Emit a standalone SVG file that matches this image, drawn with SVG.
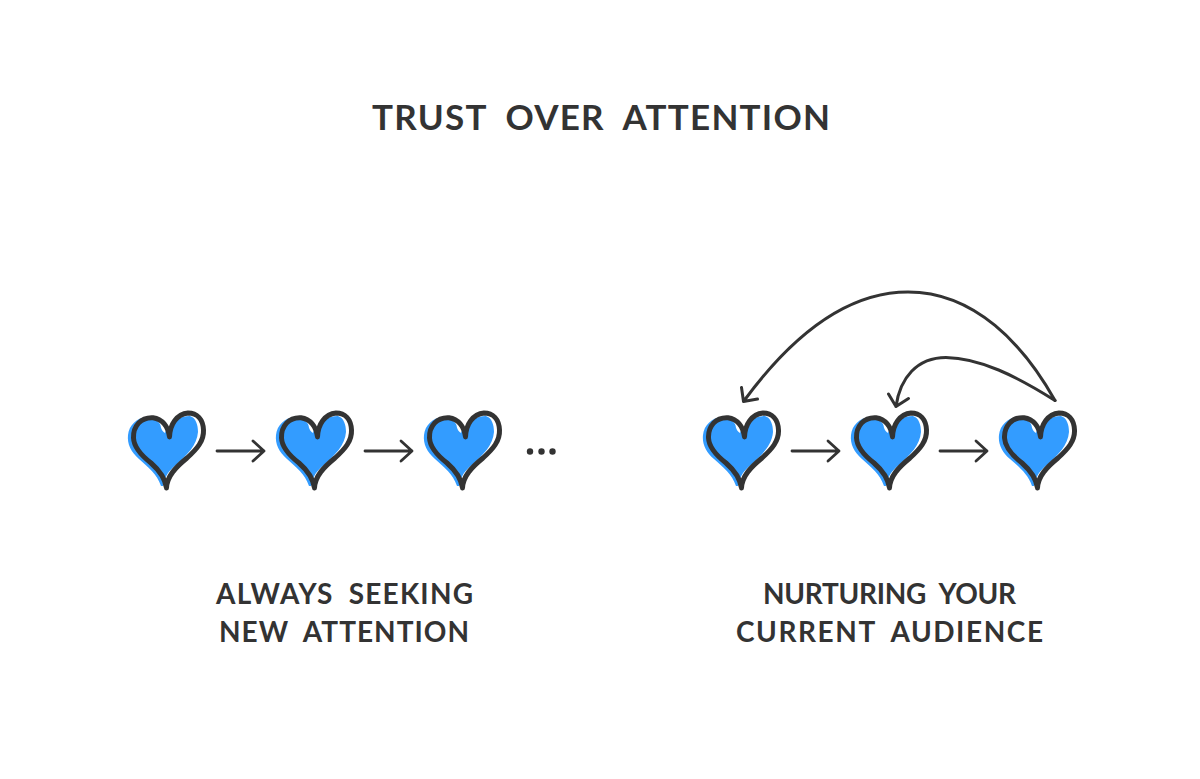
<svg xmlns="http://www.w3.org/2000/svg" width="1200" height="779" viewBox="0 0 1200 779">
<style>
.ink{fill:none;stroke:#333;stroke-linecap:round;stroke-linejoin:round}
.t{font-family:"Lato","Noto Sans",sans-serif;font-weight:700;fill:#333}
.title{font-size:35px;word-spacing:9px}
.lab{font-size:28px;word-spacing:7px}
</style>
<defs>
<g id="heart">
<path fill="#339cff" d="M161 486C157 474 148 467 139 459C131 452 127 444 128 435C129 425 137 418 146 417C155 417 160 422 163 430L168 431C171 422 180 416 190 416C196 418 198 425 198 432C197 445 187 455 178 463C171 469 166 474 165 480L163 486Z"/>
<path fill="#fff" d="M162 419C159 424 161 431 165 433L168 424Z"/>
<path class="ink" stroke-width="5" d="M169.500 437C168 426 162 419 153 417.700C141 417 133 426 133.500 438C134 448 142 456 151 463C159 470 165 477 166.500 488C167 476 176 467 187 458C197 449 204 441 203.500 430C203 419 197 413 188 413C177 414 170 424 169.500 437Z"/>
</g>
<path id="arr" class="ink" stroke-width="2.800" d="M0 451H47M36 441L47 451L36 461"/>
</defs>
<rect width="1200" height="779" fill="#fff"/>
<text id="title" class="t title" x="372" y="129.500" textLength="458" lengthAdjust="spacing">TRUST OVER ATTENTION</text>
<g id="heart-a1"><use href="#heart"/></g>
<g id="heart-a2"><use href="#heart" x="148"/></g>
<g id="heart-a3"><use href="#heart" x="296"/></g>
<g id="ellipsis" fill="#333"><circle cx="530" cy="451.500" r="3.200"/><circle cx="541.500" cy="451.500" r="3.200"/><circle cx="552.500" cy="451.500" r="3.200"/></g>
<g id="heart-b1"><use href="#heart" x="575"/></g>
<g id="heart-b2"><use href="#heart" x="723"/></g>
<g id="heart-b3"><use href="#heart" x="871"/></g>
<g id="connectors">
<use href="#arr" x="217"/>
<use href="#arr" x="365"/>
<use href="#arr" x="792"/>
<use href="#arr" x="940"/>
<path class="ink" stroke-width="3" d="M1055 400.500C1024 345 975 292 908 292C845 292 790 338 743.500 401.500M741.500 387.500L743.500 401.500L757.500 399"/>
<path class="ink" stroke-width="3" d="M1055 400.500C1016 376 980 358 946 357.500C917 357.500 900 378 896 406.500M888.500 394L896 406.500L908.500 398.500"/>
</g>
<text id="label-left-1" class="t lab" x="216" y="603.500" textLength="257" lengthAdjust="spacing">ALWAYS SEEKING</text>
<text id="label-left-2" class="t lab" x="219" y="641.500" textLength="250" lengthAdjust="spacing">NEW ATTENTION</text>
<text id="label-right-1" class="t lab" x="763" y="603.500" textLength="253" lengthAdjust="spacing">NURTURING YOUR</text>
<text id="label-right-2" class="t lab" x="736" y="641.500" textLength="307" lengthAdjust="spacing">CURRENT AUDIENCE</text>
</svg>
